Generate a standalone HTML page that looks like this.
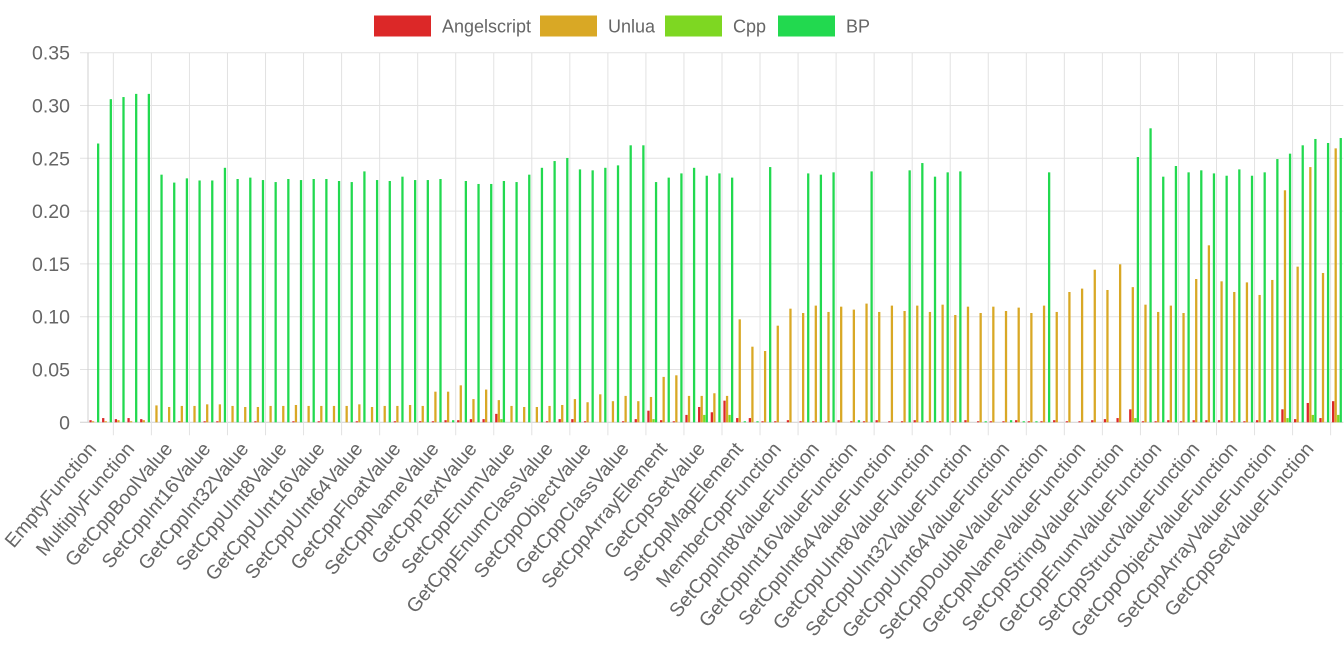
<!DOCTYPE html>
<html><head><meta charset="utf-8"><style>
html,body{margin:0;padding:0;background:#fff;}
svg{display:block;font-family:"Liberation Sans",Arial,sans-serif;}
</style></head><body>
<svg id="chart" width="1344" height="659" viewBox="0 0 1344 659" xmlns="http://www.w3.org/2000/svg">
<g id="legend"></g>
<g id="grid"></g>
<g id="yaxis"></g>
<g id="bars"></g>
<g id="xaxis"></g>
</svg>
<script>
const categories = ["EmptyFunction","AddFunction","SubtractFunction","MultiplyFunction","DivideFunction","SetCppBoolValue","GetCppBoolValue","SetCppInt8Value","GetCppInt8Value","SetCppInt16Value","GetCppInt16Value","SetCppInt32Value","GetCppInt32Value","SetCppInt64Value","GetCppInt64Value","SetCppUInt8Value","GetCppUInt8Value","SetCppUInt16Value","GetCppUInt16Value","SetCppUInt32Value","GetCppUInt32Value","SetCppUInt64Value","GetCppUInt64Value","SetCppFloatValue","GetCppFloatValue","SetCppDoubleValue","GetCppDoubleValue","SetCppNameValue","GetCppNameValue","SetCppTextValue","GetCppTextValue","SetCppStringValue","GetCppStringValue","SetCppEnumValue","GetCppEnumValue","SetCppEnumClassValue","GetCppEnumClassValue","SetCppStructValue","GetCppStructValue","SetCppObjectValue","GetCppObjectValue","SetCppClassValue","GetCppClassValue","GetCppArrayValue","SetCppArrayValue","SetCppArrayElement","GetCppArrayElement","SetCppSetValue","GetCppSetValue","SetCppMapValue","GetCppMapValue","SetCppMapElement","GetCppMapElement","StaticCppFunction","MemberCppFunction","SetCppBoolValueFunction","GetCppBoolValueFunction","SetCppInt8ValueFunction","GetCppInt8ValueFunction","SetCppInt16ValueFunction","GetCppInt16ValueFunction","SetCppInt32ValueFunction","GetCppInt32ValueFunction","SetCppInt64ValueFunction","GetCppInt64ValueFunction","SetCppUInt8ValueFunction","GetCppUInt8ValueFunction","SetCppUInt16ValueFunction","GetCppUInt16ValueFunction","SetCppUInt32ValueFunction","GetCppUInt32ValueFunction","SetCppUInt64ValueFunction","GetCppUInt64ValueFunction","SetCppFloatValueFunction","GetCppFloatValueFunction","SetCppDoubleValueFunction","GetCppDoubleValueFunction","SetCppNameValueFunction","GetCppNameValueFunction","SetCppTextValueFunction","GetCppTextValueFunction","SetCppStringValueFunction","GetCppStringValueFunction","SetCppEnumValueFunction","GetCppEnumValueFunction","SetCppEnumClassValueFunction","GetCppEnumClassValueFunction","SetCppStructValueFunction","GetCppStructValueFunction","SetCppObjectValueFunction","GetCppObjectValueFunction","SetCppClassValueFunction","GetCppClassValueFunction","SetCppArrayValueFunction","GetCppArrayValueFunction","SetCppSetValueFunction","GetCppSetValueFunction","SetCppMapValueFunction","GetCppMapValueFunction"];
const angelscript = [0.002,0.004,0.003,0.004,0.003,0,0,0.001,0,0.001,0.001,0,0,0.001,0,0,0.001,0,0.001,0,0,0.001,0,0,0.001,0,0.001,0.001,0.002,0.002,0.003,0.003,0.008,0,0,0,0.001,0.003,0.003,0.001,0,0,0.001,0.003,0.011,0.002,0.001,0.007,0.0145,0.0095,0.0205,0.004,0.004,0.001,0.001,0.002,0.001,0.001,0.001,0.002,0.001,0.001,0.002,0.001,0.001,0.002,0.001,0.001,0.001,0.002,0.001,0.001,0.001,0.002,0.001,0.001,0.002,0.001,0.001,0.002,0.003,0.004,0.0123,0.001,0.001,0.002,0.001,0.002,0.002,0.002,0.001,0.001,0.002,0.002,0.0123,0.003,0.0183,0.004,0.020];
const unlua = [0.001,0.001,0.002,0.001,0.002,0.016,0.0145,0.0155,0.0155,0.017,0.017,0.0155,0.0145,0.0145,0.0155,0.0155,0.0164,0.0155,0.0155,0.0155,0.0155,0.017,0.0145,0.0155,0.0155,0.0164,0.0155,0.029,0.029,0.035,0.022,0.031,0.021,0.0155,0.0145,0.0145,0.0155,0.0164,0.022,0.019,0.0265,0.020,0.025,0.020,0.024,0.043,0.0445,0.025,0.025,0.0275,0.025,0.0975,0.0716,0.0675,0.0915,0.1076,0.1035,0.1105,0.1045,0.1095,0.1067,0.1124,0.1045,0.1105,0.1054,0.1105,0.1045,0.1114,0.1016,0.1095,0.1035,0.1095,0.1054,0.1086,0.1035,0.1105,0.1045,0.1234,0.1266,0.1445,0.1253,0.1496,0.128,0.1114,0.1045,0.1105,0.1035,0.1357,0.1676,0.1335,0.1234,0.1325,0.1206,0.1348,0.2197,0.1474,0.2417,0.1414,0.2594];
const cpp = [0,0,0,0,0,0,0,0,0,0,0,0,0,0,0,0,0,0,0,0,0,0,0,0,0,0,0,0,0,0,0,0,0.003,0,0,0,0,0,0,0,0,0,0,0,0.003,0,0,0,0.007,0,0.007,0,0,0,0,0,0,0,0,0,0,0,0,0,0,0,0,0,0,0,0,0,0,0,0,0,0,0,0,0,0,0,0.004,0,0,0,0,0,0,0,0,0,0,0,0.004,0,0.007,0,0.007];
const bp = [0.264,0.306,0.308,0.311,0.311,0.2345,0.227,0.231,0.229,0.229,0.241,0.2304,0.2317,0.2294,0.2275,0.2304,0.2294,0.2304,0.2304,0.2285,0.2275,0.2376,0.2294,0.2285,0.2326,0.2294,0.2294,0.2304,0.002,0.2285,0.2257,0.2257,0.2285,0.2275,0.2345,0.241,0.2474,0.2503,0.2395,0.2386,0.241,0.2433,0.2623,0.2623,0.2275,0.2317,0.2357,0.241,0.2335,0.2357,0.2317,0.001,0.001,0.2417,0,0,0.2357,0.2345,0.2367,0,0.002,0.2376,0,0,0.2386,0.2455,0.2326,0.2367,0.2376,0,0.001,0,0.002,0.001,0.001,0.2367,0,0,0,0,0,0,0.2512,0.2784,0.2326,0.2427,0.2367,0.2386,0.2357,0.2335,0.2395,0.2335,0.2367,0.2493,0.2544,0.2623,0.2683,0.2645,0.2692];
const seriesNames = ["Angelscript","Unlua","Cpp","BP"];
const yTicks = [0,0.05,0.10,0.15,0.20,0.25,0.30,0.35];
const yTickLabels = ["0","0.05","0.10","0.15","0.20","0.25","0.30","0.35"];

(function(){
const NS="http://www.w3.org/2000/svg";
const colors=["#dc2828","#d9a825","#7ed722","#22d94f"];
const series=[angelscript,unlua,cpp,bp];
const pLeft=88,pRight=1343.3,pTop=52.7,pBottom=422.3,yMax=0.35;
const n=categories.length, cw=(pRight-pLeft)/n;
function yScale(v){return pBottom-(v/yMax)*(pBottom-pTop);}
function xCenter(i){return pLeft+cw*(i+0.5);}
function mk(tag,attrs,parent){const e=document.createElementNS(NS,tag);for(const k in attrs)e.setAttribute(k,attrs[k]);parent.appendChild(e);return e;}

const lg=document.getElementById('legend');
const lx=[374,540,665,778];
seriesNames.forEach((s,i)=>{
  const g=mk('g',{},lg);
  
  
  const r=mk('rect',{x:lx[i],y:15.5,width:57,height:21,fill:colors[i]},g);
  
  
  const t=mk('text',{x:lx[i]+68,y:32.5,'font-size':18,fill:'#666'},g);
  
  
  t.textContent=s;
});

const gr=document.getElementById('grid');
yTicks.forEach((v,i)=>{
  const l=mk('line',{x1:pLeft-8,x2:pRight,y1:yScale(v),y2:yScale(v),stroke:i===0?'#d0d0d0':'#e2e2e2','stroke-width':1},gr);
  
  
});
{const l=mk('line',{x1:pLeft,x2:pLeft,y1:pTop,y2:pBottom,stroke:'#d0d0d0','stroke-width':1},gr);

}
for(let k=2;k<n;k+=3){
  const x=pLeft+cw*k;
  const l=mk('line',{x1:x,x2:x,y1:pTop,y2:pBottom+13,stroke:'#e2e2e2','stroke-width':1},gr);
  
  
}

const ya=document.getElementById('yaxis');
yTicks.forEach((v,i)=>{
  const t=mk('text',{x:70,y:yScale(v)+7,'text-anchor':'end','font-size':19.5,fill:'#666'},ya);
  
  
  t.textContent=yTickLabels[i];
});

const bg=document.getElementById('bars');
const groupW=cw*0.8, slot=groupW/4, bw=slot*0.9;
for(let i=0;i<n;i++){
  const gx=pLeft+cw*i+cw*0.1;
  series.forEach((arr,s)=>{
    const v=arr[i]; if(!v) return;
    const y=yScale(v);
    const r=mk('rect',{x:gx+slot*s+(slot-bw)/2,y:y,width:bw,height:pBottom-y,fill:colors[s]},bg);
    
    
  });
}

const xa=document.getElementById('xaxis');
for(let i=0;i<n;i+=3){
  const x=xCenter(i)+3;
  const t=mk('text',{x:0,y:0,'text-anchor':'end','font-size':19.5,fill:'#666',transform:`translate(${x},${pBottom+27}) rotate(-50)`},xa);
  
  
  t.textContent=categories[i];
}
})();
</script>
</body></html>
